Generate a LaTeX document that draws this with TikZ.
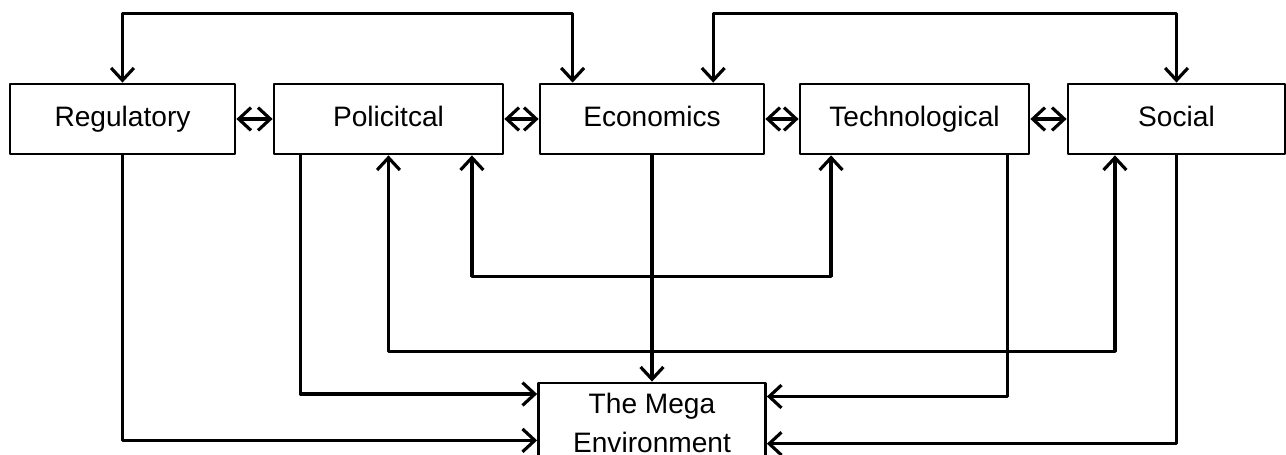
\documentclass[tikz,border=0pt]{standalone}
\usepackage{fontspec}
\setmainfont{Liberation Sans}
\usetikzlibrary{arrows.meta,calc}

\begin{document}
\begin{tikzpicture}[x=0.02cm, y=-0.02cm, line join=round,
  box/.style={draw, line width=1.6pt, minimum height=1.4cm, inner sep=2pt,
              font=\fontsize{16}{22}\selectfont},
  row/.style={box, text height=11.5pt, text depth=3.5pt},
  oneway/.style={line width=1.8pt, -{Straight Barb[length=7pt,width=13pt]}},
  twoway/.style={line width=1.8pt, {Straight Barb[length=7pt,width=13pt]}-{Straight Barb[length=7pt,width=13pt]}}]
\useasboundingbox (0,0) rectangle (1286,455);
% the five forces
\node[row, minimum width=4.5cm]  (reg) at (122.5,119) {Regulatory};
\node[row, minimum width=4.58cm] (pol) at (388.5,119) {Policitcal};
\node[row, minimum width=4.48cm] (eco) at (652,119)   {Economics};
\node[row, minimum width=4.58cm] (tec) at (914.5,119) {Technological};
\node[row, minimum width=4.34cm] (soc) at (1176.5,119) {Social};
\node[box, minimum width=4.54cm, minimum height=1.6cm, align=center] (mega) at (652,423) {The Mega\\Environment};
% points on the boxes
\coordinate (e1) at ($(eco.north west)!0.15!(eco.north east)$);
\coordinate (e2) at ($(eco.north west)!0.77!(eco.north east)$);
\coordinate (p1) at ($(pol.south west)!0.12!(pol.south east)$);
\coordinate (p2) at ($(pol.south west)!0.86!(pol.south east)$);
\coordinate (t1) at ($(tec.south west)!0.14!(tec.south east)$);
\coordinate (t2) at ($(tec.south west)!0.9!(tec.south east)$);
\coordinate (s1) at ($(soc.south west)!0.22!(soc.south east)$);
\coordinate (m1) at ($(mega.north west)!0.15!(mega.south west)$);
\coordinate (m2) at ($(mega.north west)!0.71!(mega.south west)$);
\coordinate (m3) at ($(mega.north east)!0.18!(mega.south east)$);
\coordinate (m4) at ($(mega.north east)!0.75!(mega.south east)$);
% top loops
\draw[twoway] (reg.north) -- ++(0,-69) -| (e1);
\draw[twoway] (e2) -- ++(0,-69) -| (soc.north);
% neighbours
\draw[twoway] (reg.east) -- (pol.west);
\draw[twoway] (pol.east) -- (eco.west);
\draw[twoway] (eco.east) -- (tec.west);
\draw[twoway] (tec.east) -- (soc.west);
% bottom loops
\draw[twoway] (p2) -- ++(0,121) -| (t1);
\draw[twoway] (pol.south) -- ++(0,196) -| (s1);
% into the mega environment
\draw[oneway] (reg.south) |- (m2);
\draw[oneway] (p1) |- (m1);
\draw[oneway] (eco.south) -- (mega.north);
\draw[oneway] (t2) |- (m3);
\draw[oneway] (soc.south) |- (m4);
\end{tikzpicture}
\end{document}
